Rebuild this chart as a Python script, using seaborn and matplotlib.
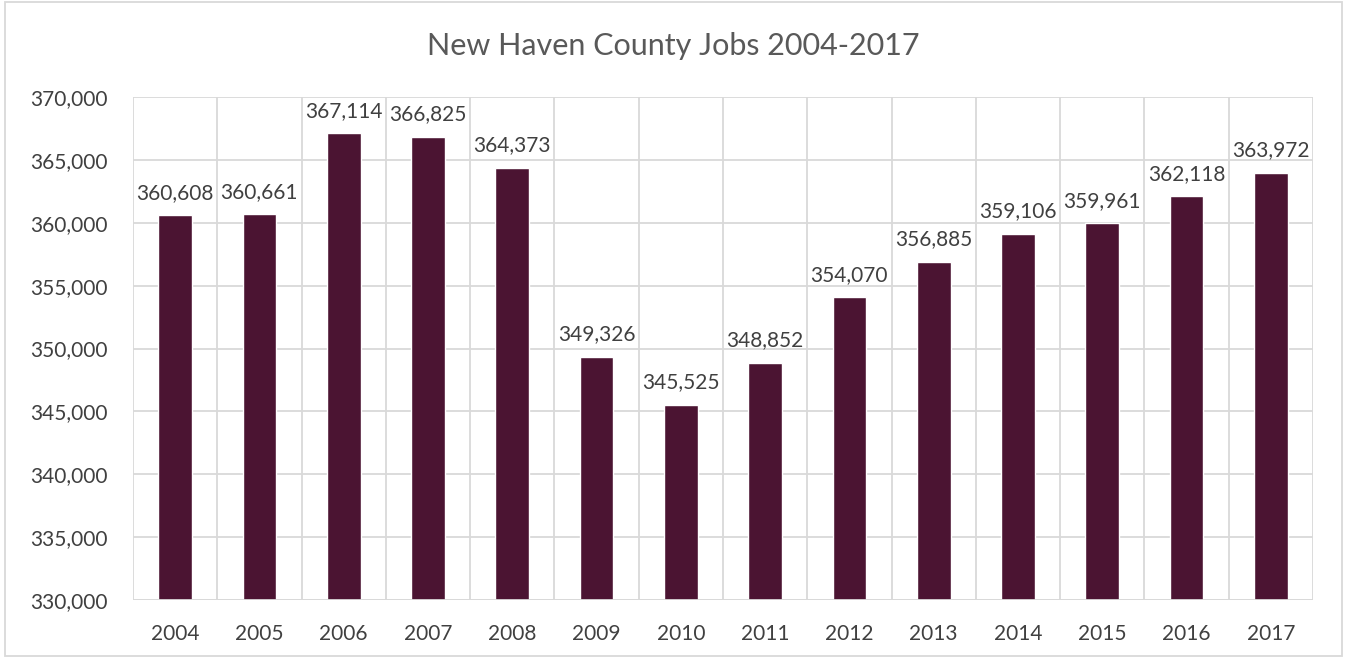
import numpy as np
import pandas as pd
import seaborn as sns
import matplotlib.pyplot as plt
from matplotlib.patches import Rectangle

years = ["2004", "2005", "2006", "2007", "2008", "2009", "2010",
         "2011", "2012", "2013", "2014", "2015", "2016", "2017"]
jobs = [360608, 360661, 367114, 366825, 364373, 349326, 345525,
        348852, 354070, 356885, 359106, 359961, 362118, 363972]
y_ticks = [330000, 335000, 340000, 345000, 350000, 355000, 360000, 365000, 370000]

df = pd.DataFrame({"Year": years, "Jobs": jobs})

sns.set_style("white")
plt.rcParams['font.family'] = ['Lato', 'DejaVu Sans']
text_col = '#404040'

fig = plt.figure(figsize=(13.47, 6.58), dpi=100)
ax = fig.add_axes([0.0987, 0.0881, 0.876, 0.7645])

sns.barplot(data=df, x="Year", y="Jobs", color='#4B1432', width=0.4,
            saturation=1, ax=ax, zorder=3)

ax.set_ylim(y_ticks[0], y_ticks[-1])
ax.set_xlim(-0.5, len(years) - 0.5)
ax.set_yticks(y_ticks)
ax.set_yticklabels([f"{v:,}" for v in y_ticks])
ax.set_xticks(np.arange(-0.5, len(years), 1), minor=True)
ax.grid(axis='y', which='major', color='#d9d9d9', linewidth=1.3, zorder=0)
ax.grid(axis='x', which='minor', color='#d9d9d9', linewidth=1.3, zorder=0)
ax.tick_params(axis='both', which='both', length=0, labelsize=15, colors=text_col)
ax.tick_params(axis='x', pad=17)
ax.tick_params(axis='y', pad=18)
for s in ax.spines.values():
    s.set_visible(False)
ax.axhline(y_ticks[0], color='#d9d9d9', linewidth=1.3, zorder=4)

ax.bar_label(ax.containers[0], labels=[f"{v:,}" for v in jobs],
             fontsize=15, color=text_col, padding=9)

ax.set_xlabel("")
ax.set_ylabel("")
fig.suptitle("New Haven County Jobs 2004-2017", fontsize=22, color='#595959',
             y=0.952)

fig.patches.append(Rectangle((0.004, 0.003), 0.992, 0.994, transform=fig.transFigure,
                             fill=False, edgecolor='#d9d9d9', linewidth=1.3))

plt.savefig('out.png', dpi=100)
print('Saved out.png')
